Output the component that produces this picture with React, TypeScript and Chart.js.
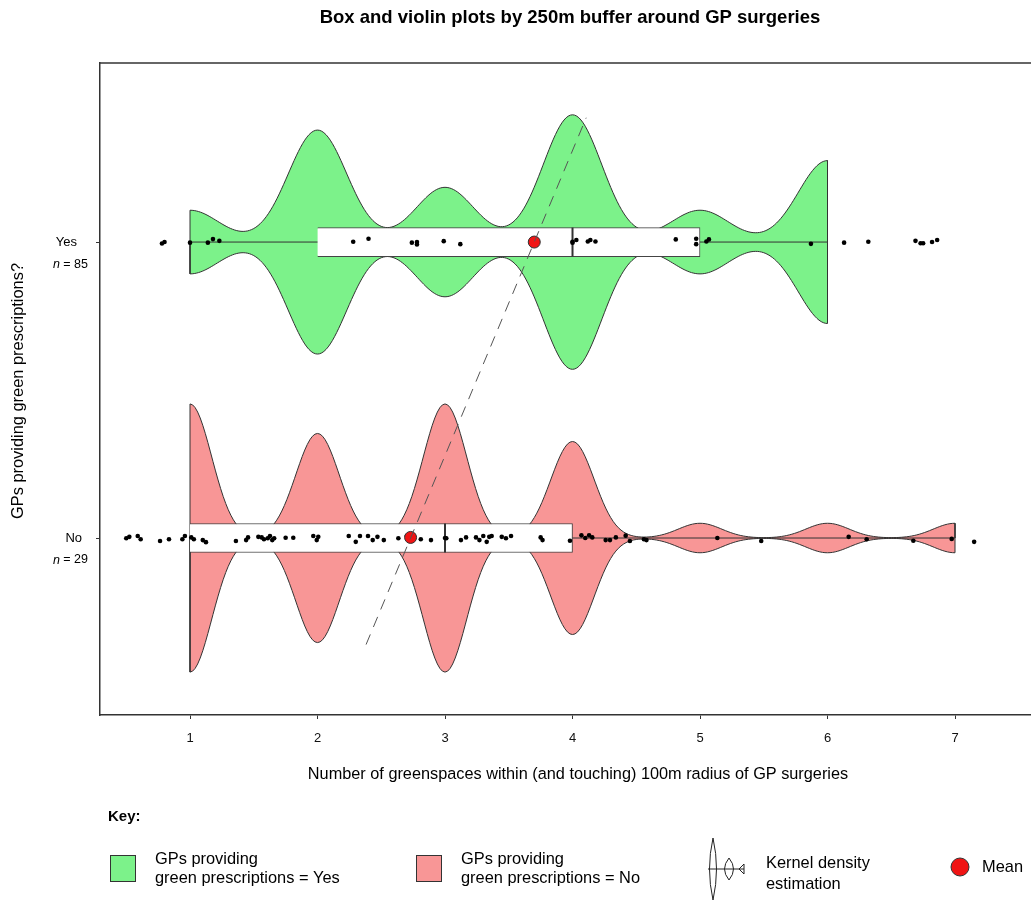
import React, { useEffect, useRef } from "react";
import { Chart, registerables } from "chart.js";

Chart.register(...registerables);

// ---------- data ----------
const xTickValues = [1, 2, 3, 4, 5, 6, 7];
const groupLabels = ["No", "Yes"];
const groupN = [29, 85];

// Yes group (y = 1)
const yesKdeAt = [1, 2, 3, 4, 5, 6];
const yesKdePeak = [0.25, 0.88, 0.43, 1.0, 0.25, 0.64];
const yesBandwidth = 0.23;
const yesFiveNum = [1, 2, 4, 5, 6]; // min, q1, median, q3, max
const yesMean = 3.7;
const yesPointsX = [0.78, 0.8, 1.0, 1.14, 1.18, 1.23, 2.28, 2.4, 2.74, 2.78, 2.78, 2.99, 3.12, 4.0, 4.0, 4.03, 4.12, 4.14, 4.18, 4.81, 4.97, 4.97, 5.05, 5.07, 5.87, 6.13, 6.32, 6.69, 6.73, 6.75, 6.82, 6.86];
const yesPointsJitter = [-0.005, 0.0, -0.002, -0.002, 0.01, 0.004, 0.001, 0.011, -0.002, 0.0, -0.008, 0.003, -0.007, 0.001, -0.002, 0.007, 0.002, 0.007, 0.002, 0.009, 0.011, -0.007, 0.002, 0.009, -0.006, -0.002, 0.001, 0.004, -0.004, -0.004, 0.0, 0.007];

// No group (y = 0)
const noKdeAt = [1, 2, 3, 4, 5, 6, 7];
const noKdePeak = [1.0, 0.78, 1.0, 0.72, 0.11, 0.11, 0.11];
const noBandwidth = 0.17;
const noFiveNum = [1, 1, 3, 4, 7];
const noMean = 2.73;
const noPointsX = [0.5, 0.524, 0.59, 0.613, 0.765, 0.835, 0.94, 0.96, 1.01, 1.03, 1.1, 1.125, 1.36, 1.44, 1.455, 1.536, 1.562, 1.58, 1.61, 1.627, 1.645, 1.66, 1.75, 1.81, 1.967, 1.994, 2.006, 2.245, 2.3, 2.333, 2.396, 2.433, 2.47, 2.52, 2.634, 2.7, 2.81, 2.89, 3.0, 3.01, 3.125, 3.165, 3.243, 3.27, 3.3, 3.327, 3.347, 3.366, 3.445, 3.478, 3.518, 3.75, 3.765, 3.98, 4.07, 4.1, 4.13, 4.155, 4.26, 4.294, 4.34, 4.417, 4.45, 4.56, 4.58, 5.136, 5.48, 6.166, 6.307, 6.673, 6.974, 7.15];
const noPointsJitter = [-0.001, 0.004, 0.007, -0.004, -0.01, -0.004, -0.004, 0.007, 0.002, -0.004, -0.007, -0.014, -0.01, -0.007, 0.002, 0.004, 0.002, -0.004, -0.001, 0.007, -0.007, -0.001, 0.001, 0.001, 0.007, -0.007, 0.004, 0.007, -0.013, 0.007, 0.007, -0.007, 0.004, -0.007, -0.001, 0.007, -0.004, -0.007, 0.0, -0.001, -0.007, 0.002, 0.002, -0.007, 0.007, -0.013, 0.004, 0.007, 0.004, -0.001, 0.007, 0.002, -0.007, -0.009, 0.009, 0.0, 0.009, 0.002, -0.007, -0.007, 0.002, 0.008, -0.01, -0.004, -0.007, 0.0, -0.01, 0.004, -0.004, -0.009, -0.003, -0.013];

// dashed line through the two means, extent on the y axis
const meanLineYExtent = [-0.36, 1.42];

// ---------- styles ----------
const FONT = '"Liberation Sans", Arial, Helvetica, sans-serif';
const GREEN = "rgb(124, 242, 138)";
const PINK = "rgb(248, 150, 150)";
const RED = "rgb(240, 20, 20)";
const DARK = "#333333";
const YES_HALF = 0.43;
const NO_HALF = 0.453;
const BOX_HALF = 0.049;

function violinProfile(at: number[], peak: number[], bw: number, lo: number, hi: number, maxHalf: number) {
  const n = 300;
  const xs: number[] = [];
  for (let i = 0; i <= n; i++) xs.push(lo + ((hi - lo) * i) / n);
  const f = xs.map((x) => at.reduce((s, k, j) => s + peak[j] * Math.exp(-((x - k) * (x - k)) / (2 * bw * bw)), 0));
  const m = Math.max(...f);
  return xs.map((x, i) => ({ x, h: (f[i] / m) * maxHalf }));
}

function violinDatasets(profile: { x: number; h: number }[], center: number, color: string) {
  const first = profile[0];
  const last = profile[profile.length - 1];
  const upper = [{ x: first.x, y: center }, ...profile.map((p) => ({ x: p.x, y: center + p.h })), { x: last.x, y: center }];
  const lower = [{ x: first.x, y: center }, ...profile.map((p) => ({ x: p.x, y: center - p.h })), { x: last.x, y: center }];
  return [
    { type: "line", data: upper, borderColor: DARK, borderWidth: 1, pointRadius: 0, fill: false, order: 20, tension: 0 },
    { type: "line", data: lower, borderColor: DARK, borderWidth: 1, pointRadius: 0, fill: "-1", backgroundColor: color, order: 20, tension: 0 },
  ];
}

const textPlugin = {
  id: "texts",
  afterDraw(chart: any) {
    const ctx = chart.ctx as CanvasRenderingContext2D;
    const { chartArea } = chart;
    const yScale = chart.scales.y;
    ctx.save();
    // top border
    ctx.strokeStyle = DARK;
    ctx.lineWidth = 1.5;
    ctx.beginPath();
    ctx.moveTo(chartArea.left, chartArea.top);
    ctx.lineTo(chartArea.right, chartArea.top);
    ctx.stroke();

    ctx.fillStyle = "#000";
    ctx.textBaseline = "middle";
    // title
    ctx.font = `bold 18.5px ${FONT}`;
    ctx.textAlign = "center";
    ctx.fillText("Box and violin plots by 250m buffer around GP surgeries", 570, 18);
    // x title
    ctx.font = `16.3px ${FONT}`;
    ctx.fillText("Number of greenspaces within (and touching) 100m radius of GP surgeries", 578, 775);
    // y title
    ctx.save();
    ctx.translate(18, 391);
    ctx.rotate(-Math.PI / 2);
    ctx.font = `16.4px ${FONT}`;
    ctx.fillText("GPs providing green prescriptions?", 0, 0);
    ctx.restore();

    // y labels
    groupLabels.forEach((lab, i) => {
      const py = yScale.getPixelForValue(i);
      ctx.font = `13px ${FONT}`;
      ctx.textAlign = "right";
      ctx.fillText(lab, lab === "Yes" ? 77 : 82, py);
      const rest = " = " + groupN[i];
      ctx.font = `12.5px ${FONT}`;
      const wRest = ctx.measureText(rest).width;
      ctx.fillText(rest, 88, py + 22);
      ctx.font = `italic 12.5px ${FONT}`;
      ctx.fillText("n", 88 - wRest, py + 22);
    });

    // key
    ctx.textAlign = "left";
    ctx.font = `bold 15px ${FONT}`;
    ctx.fillText("Key:", 108, 817);

    const drawSwatch = (x: number, color: string, l1: string, l2: string) => {
      ctx.fillStyle = color;
      ctx.fillRect(x, 855, 25, 26);
      ctx.strokeStyle = DARK;
      ctx.lineWidth = 1;
      ctx.strokeRect(x + 0.5, 855.5, 25, 26);
      ctx.fillStyle = "#000";
      ctx.font = `16.4px ${FONT}`;
      ctx.fillText(l1, x + 45, 859);
      ctx.fillText(l2, x + 45, 878);
    };
    drawSwatch(110, GREEN, "GPs providing", "green prescriptions = Yes");
    drawSwatch(416, PINK, "GPs providing", "green prescriptions = No");

    // kernel icon
    ctx.strokeStyle = "#222";
    ctx.lineWidth = 1;
    const cy = 869;
    ctx.beginPath();
    ctx.moveTo(708, cy);
    ctx.lineTo(744, cy);
    ctx.stroke();
    const lens = (cx: number, hw: number, hh: number) => {
      ctx.beginPath();
      ctx.moveTo(cx, cy - hh);
      ctx.quadraticCurveTo(cx + hw, cy, cx, cy + hh);
      ctx.quadraticCurveTo(cx - hw, cy, cx, cy - hh);
      ctx.stroke();
    };
    lens(713, 7, 31);
    lens(729, 9, 11);
    ctx.beginPath();
    ctx.moveTo(744, cy - 5);
    ctx.lineTo(739, cy);
    ctx.lineTo(744, cy + 5);
    ctx.lineTo(744, cy - 5);
    ctx.stroke();
    ctx.font = `16.4px ${FONT}`;
    ctx.fillStyle = "#000";
    ctx.fillText("Kernel density", 766, 863);
    ctx.fillText("estimation", 766, 884);

    // mean symbol
    ctx.beginPath();
    ctx.arc(960, 867, 9, 0, Math.PI * 2);
    ctx.fillStyle = RED;
    ctx.fill();
    ctx.strokeStyle = DARK;
    ctx.stroke();
    ctx.fillStyle = "#000";
    ctx.fillText("Mean", 982, 867);
    ctx.restore();
  },
};

export default function App() {
  const ref = useRef<HTMLCanvasElement | null>(null);

  useEffect(() => {
    if (!ref.current) return;
    const yesProfile = violinProfile(yesKdeAt, yesKdePeak, yesBandwidth, yesFiveNum[0], yesFiveNum[4], YES_HALF);
    const noProfile = violinProfile(noKdeAt, noKdePeak, noBandwidth, noFiveNum[0], noFiveNum[4], NO_HALF);
    const slope = yesMean - noMean;
    const datasets: any[] = [
      ...violinDatasets(yesProfile, 1, GREEN),
      ...violinDatasets(noProfile, 0, PINK),
      // whiskers
      { type: "line", data: [{ x: yesFiveNum[0], y: 1 }, { x: yesFiveNum[4], y: 1 }], borderColor: DARK, borderWidth: 1, pointRadius: 0, order: 15 },
      { type: "line", data: [{ x: noFiveNum[0], y: 0 }, { x: noFiveNum[4], y: 0 }], borderColor: DARK, borderWidth: 1, pointRadius: 0, order: 15 },
      // boxes
      {
        type: "bar",
        indexAxis: "y",
        data: [
          { x: [noFiveNum[1], noFiveNum[3]], y: 0 },
          { x: [yesFiveNum[1], yesFiveNum[3]], y: 1 },
        ],
        backgroundColor: "#ffffff",
        borderColor: "#444444",
        borderWidth: 1,
        barThickness: 29,
        order: 12,
      },
      // medians
      { type: "line", data: [{ x: yesFiveNum[2], y: 1 - BOX_HALF }, { x: yesFiveNum[2], y: 1 + BOX_HALF }], borderColor: DARK, borderWidth: 2, pointRadius: 0, order: 10 },
      { type: "line", data: [{ x: noFiveNum[2], y: -BOX_HALF }, { x: noFiveNum[2], y: BOX_HALF }], borderColor: DARK, borderWidth: 2, pointRadius: 0, order: 10 },
      // points
      { type: "scatter", data: yesPointsX.map((x, i) => ({ x, y: 1 + yesPointsJitter[i] })), pointRadius: 2.3, backgroundColor: "#000", borderWidth: 0, order: 8 },
      { type: "scatter", data: noPointsX.map((x, i) => ({ x, y: noPointsJitter[i] })), pointRadius: 2.3, backgroundColor: "#000", borderWidth: 0, order: 8 },
      // means
      { type: "scatter", data: [{ x: yesMean, y: 1 }, { x: noMean, y: 0.002 }], pointRadius: 6, backgroundColor: RED, borderColor: DARK, borderWidth: 1, order: 6 },
      // dashed line through means
      {
        type: "line",
        data: meanLineYExtent.map((y) => ({ x: noMean + slope * y, y })),
        borderColor: "#555555",
        borderWidth: 1,
        borderDash: [11, 8],
        pointRadius: 0,
        order: 4,
      },
    ];

    const chart = new Chart(ref.current, {
      type: "line",
      data: { datasets },
      options: {
        responsive: false,
        animation: false,
        devicePixelRatio: 1,
        layout: { autoPadding: false, padding: { top: 63, left: 0, right: 0, bottom: 0 } },
        plugins: { legend: { display: false }, tooltip: { enabled: false } },
        scales: {
          x: {
            type: "linear",
            min: 0.294,
            max: 7.596,
            offset: false,
            beginAtZero: false,
            afterBuildTicks: (s: any) => {
              s.ticks = xTickValues.map((v) => ({ value: v }));
            },
            afterFit: (s: any) => {
              s.height = 187;
              s.paddingLeft = 0;
              s.paddingRight = 0;
            },
            ticks: { font: { family: FONT, size: 13 }, color: "#111", padding: 12, maxRotation: 0 },
            grid: { drawOnChartArea: false, drawTicks: true, tickLength: 4, color: DARK },
            border: { display: true, color: DARK, width: 1.5 },
          },
          y: {
            type: "linear",
            min: -0.598,
            max: 1.605,
            offset: false,
            beginAtZero: false,
            afterBuildTicks: (s: any) => {
              s.ticks = [{ value: 0 }, { value: 1 }];
            },
            afterFit: (s: any) => {
              s.width = 100;
              s.paddingTop = 0;
              s.paddingBottom = 0;
            },
            ticks: { display: false },
            grid: { drawOnChartArea: false, drawTicks: true, tickLength: 4, color: DARK, offset: false },
            border: { display: true, color: DARK, width: 1.5 },
          },
        },
      } as any,
      plugins: [textPlugin],
    } as any);
    return () => chart.destroy();
  }, []);

  return (
    <div style={{ position: "absolute", left: 0, top: 0, width: 1031, height: 902, background: "#fff" }}>
      <canvas ref={ref} width={1031} height={902} style={{ width: 1031, height: 902, display: "block" }} />
    </div>
  );
}
